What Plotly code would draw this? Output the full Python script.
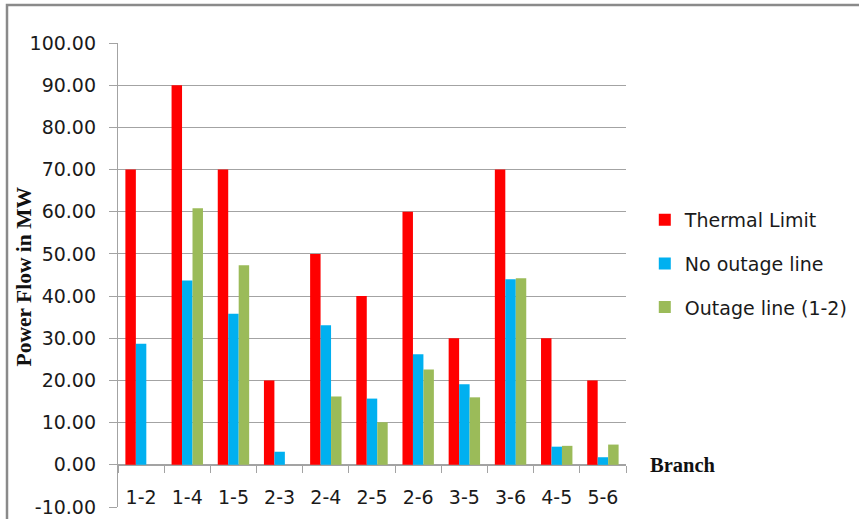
import plotly.graph_objects as go

# Branch power flows (MW)
branches = ["1-2", "1-4", "1-5", "2-3", "2-4", "2-5", "2-6", "3-5", "3-6", "4-5", "5-6"]
thermal_limit = [70, 90, 70, 20, 50, 40, 60, 30, 70, 30, 20]
no_outage = [28.7, 43.7, 35.8, 3.1, 33.1, 15.7, 26.2, 19.1, 44.0, 4.3, 1.8]
outage_1_2 = [0, 60.8, 47.3, 0, 16.2, 10.1, 22.6, 16.0, 44.2, 4.5, 4.8]

y_ticks = [-10, 0, 10, 20, 30, 40, 50, 60, 70, 80, 90, 100]

FONT = "DejaVu Sans"
SERIF = "Liberation Serif"
GRID = "#a3a3a3"

fig = go.Figure()
series = [
    ("Thermal Limit", thermal_limit, "#ff0000"),
    ("No outage line", no_outage, "#00b0f0"),
    ("Outage line (1-2)", outage_1_2, "#9bbb59"),
]
for name, vals, color in series:
    fig.add_trace(go.Bar(
        x=branches, y=vals, name=name, legendgroup=name,
        marker=dict(color=color, line=dict(width=0)),
    ))

fig.update_layout(
    width=859, height=519,
    margin=dict(l=118, r=233, t=43, b=12, autoexpand=False),
    paper_bgcolor="white", plot_bgcolor="white",
    barmode="group", bargap=0.32, bargroupgap=0,
    font=dict(family=FONT, size=19, color="#1a1a1a"),
    showlegend=True,
    legend=dict(
        x=1.037, xanchor="left", y=0.524, yanchor="middle",
        font=dict(family=FONT, size=19, color="#1a1a1a"),
        tracegroupgap=16, bgcolor="rgba(0,0,0,0)",
    ),
    xaxis=dict(
        type="category", anchor="free", position=10 / 110, automargin=False,
        showline=True, linecolor=GRID, linewidth=1.3,
        ticks="outside", tickson="boundaries", ticklen=7, tickcolor=GRID,
        tickwidth=1.3, ticklabelstandoff=15, showgrid=False,
        tickfont=dict(family=FONT, size=19, color="#1a1a1a"),
    ),
    yaxis=dict(
        range=[-10, 100], tickvals=y_ticks, automargin=False,
        ticktext=[f"{v:.2f}" for v in y_ticks],
        showgrid=True, gridcolor=GRID, gridwidth=1.3, zeroline=False,
        showline=True, linecolor=GRID, linewidth=1.3,
        ticks="outside", ticklen=8, tickcolor=GRID, tickwidth=1.3,
        ticklabelstandoff=9,
        tickfont=dict(family=FONT, size=19, color="#1a1a1a"),
    ),
    shapes=[
        dict(type="rect", xref="paper", yref="paper",
             x0=-0.2185, x1=1.6, y0=-0.5, y1=1.0819,
             line=dict(color="#8a8a8a", width=2.5), layer="below"),
    ],
    annotations=[
        dict(text="<b>Power Flow in MW</b>", xref="paper", yref="paper",
             x=(24 - 118) / 508, y=0.497, xanchor="center", yanchor="middle",
             textangle=-90, showarrow=False,
             font=dict(family=SERIF, size=21.5, color="#111111")),
        dict(text="<b>Branch</b>", xref="paper", yref="y",
             x=(683 - 118) / 508, y=0, xanchor="center", yanchor="middle",
             showarrow=False,
             font=dict(family=SERIF, size=20.5, color="#111111")),
    ],
)

fig.write_html("out.html")
